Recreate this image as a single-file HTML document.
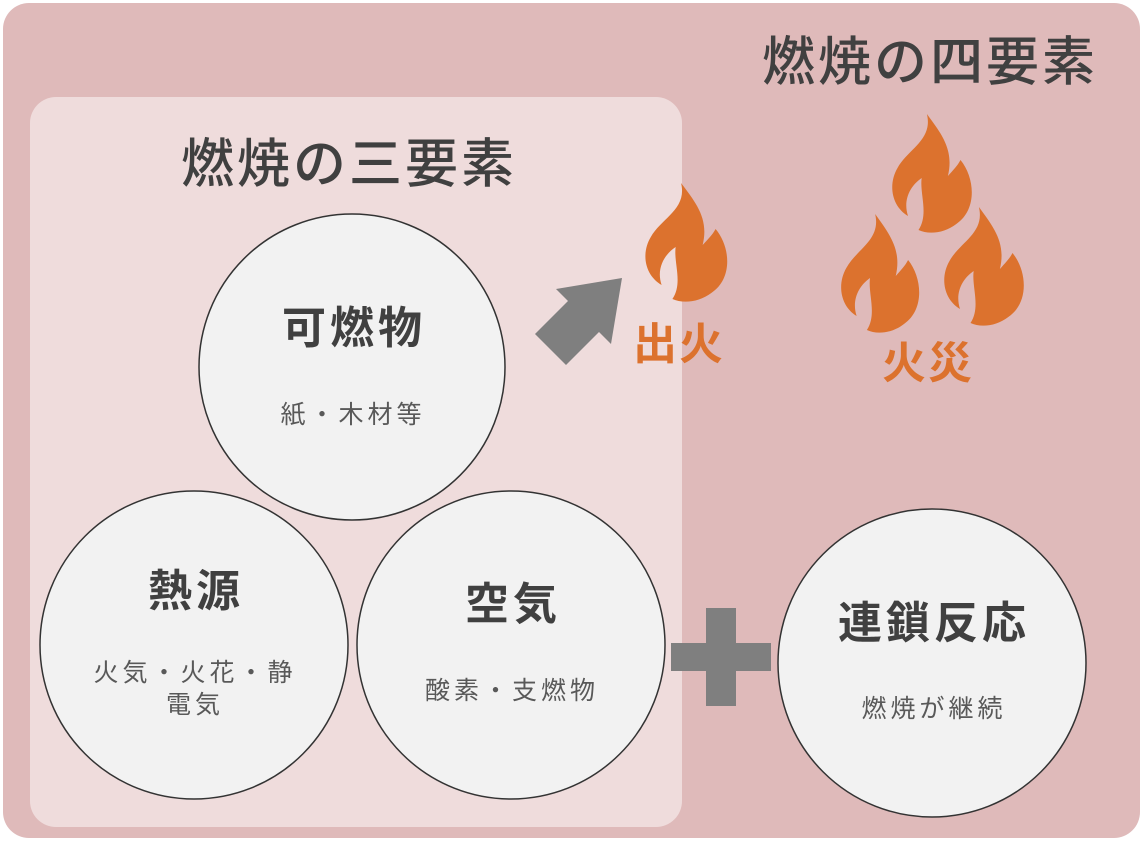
<!DOCTYPE html>
<html><head><meta charset="utf-8"><style>
body{margin:0;width:1147px;height:842px;background:#fff;overflow:hidden;font-family:"Liberation Sans","Noto Sans CJK JP",sans-serif;}
</style></head><body>
<svg width="1147" height="842" viewBox="0 0 1147 842" xmlns="http://www.w3.org/2000/svg" font-family="Liberation Sans, Noto Sans CJK JP, sans-serif">
<defs>
<path id="fl" d="M38,0 C52,20 64,36 58,62 C63,56 67,52 70,46 C84,64 86,96 66,110 C55,119 40,121 30,116 C40,100 31,80 33,64 C22,72 15,86 20,102 C4,92 1,70 10,54 C20,35 44,26 38,0Z" fill="#dc722e"/>
</defs>
<rect x="3" y="3" width="1137" height="835" rx="26" fill="#dfbaba"/>
<rect x="30" y="97" width="652" height="730" rx="26" fill="#efdcdc"/>
<text x="930" y="80" font-size="53" font-weight="500" letter-spacing="3" fill="#404040" text-anchor="middle">燃焼の四要素</text>
<text x="349" y="182" font-size="53" font-weight="500" letter-spacing="3" fill="#404040" text-anchor="middle">燃焼の三要素</text>
<g stroke="#333" stroke-width="1.5" fill="#f2f2f2">
<circle cx="352" cy="367" r="153"/>
<circle cx="194" cy="645" r="154"/>
<circle cx="511" cy="645" r="154"/>
<circle cx="932" cy="663" r="154"/>
</g>
<g fill="#404040" font-weight="bold" font-size="44" letter-spacing="4" text-anchor="middle">
<text x="354" y="343">可燃物</text>
<text x="196" y="606">熱源</text>
<text x="513" y="619">空気</text>
<text x="934" y="638">連鎖反応</text>
</g>
<g fill="#595959" font-size="25" letter-spacing="4" text-anchor="middle">
<text x="353" y="423">紙・木材等</text>
<text x="195" y="681">火気・火花・静</text>
<text x="195" y="713">電気</text>
<text x="512" y="699">酸素・支燃物</text>
<text x="934" y="717">燃焼が継続</text>
</g>
<polygon points="535,334 568,301 556,289 622,278 611,344 599,332 566,365" fill="#7f7f7f"/>
<rect x="671" y="643" width="100" height="28" fill="#7f7f7f"/>
<rect x="706" y="608" width="30" height="98" fill="#7f7f7f"/>
<use href="#fl" transform="translate(640,183) scale(1.08,1)"/>
<use href="#fl" transform="translate(887,114) scale(1.05,1)"/>
<use href="#fl" transform="translate(836,214) scale(1.03,1)"/>
<use href="#fl" transform="translate(939,207) scale(1.05,1)"/>
<g fill="#dc722e" font-weight="bold" font-size="44" letter-spacing="2" text-anchor="middle">
<text x="679" y="359">出火</text>
<text x="928" y="378">火災</text>
</g>
</svg>
</body></html>
